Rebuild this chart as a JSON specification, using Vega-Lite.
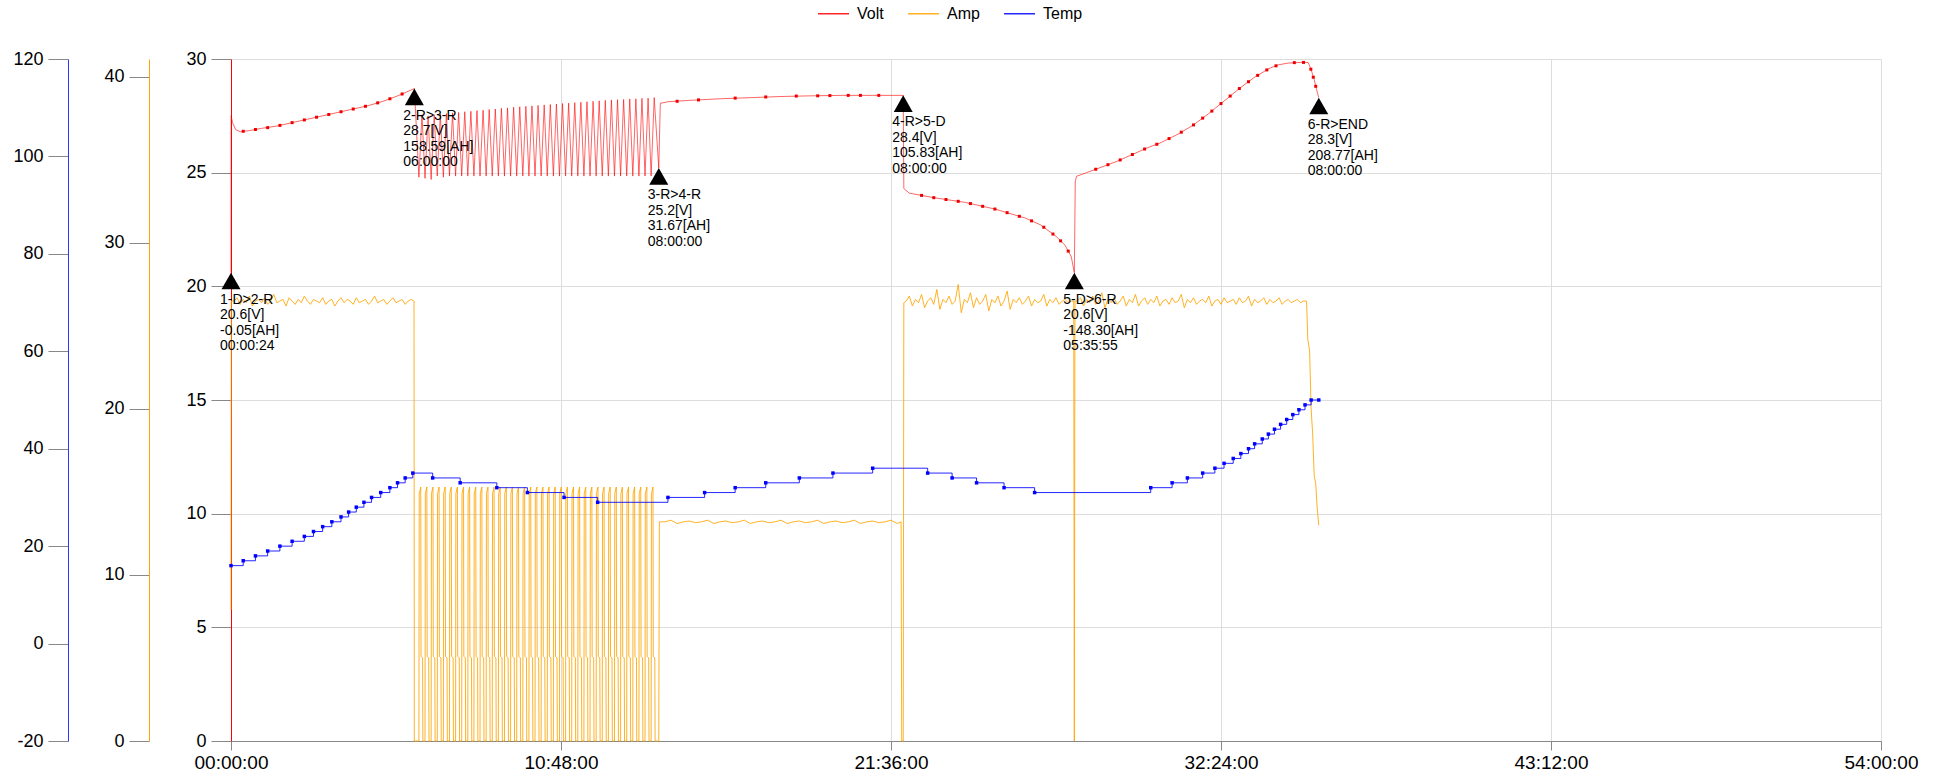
{
  "$schema": "https://vega.github.io/schema/vega-lite/v6.json",
  "width": 1650,
  "height": 682,
  "autosize": {"type": "none"},
  "padding": {"left": 231, "top": 59, "right": 60, "bottom": 34},
  "background": "white",
  "config": {
    "view": {"stroke": null},
    "font": "Liberation Sans",
    "axis": {"labelFont": "Liberation Sans", "labelColor": "#000000", "tickColor": "#888888", "domainColor": "#888888", "gridColor": "#dddddd", "labelFontSize": 18, "title": null}
  },
  "datasets": {
    "marks": [
      {"t": 0, "y": 20.6, "label": "1-D>2-R\n20.6[V]\n-0.05[AH]\n00:00:24"},
      {"t": 6.0, "y": 28.7, "label": "2-R>3-R\n28.7[V]\n158.59[AH]\n06:00:00"},
      {"t": 14.0, "y": 25.2, "label": "3-R>4-R\n25.2[V]\n31.67[AH]\n08:00:00"},
      {"t": 22.0, "y": 28.4, "label": "4-R>5-D\n28.4[V]\n105.83[AH]\n08:00:00"},
      {"t": 27.6, "y": 20.6, "label": "5-D>6-R\n20.6[V]\n-148.30[AH]\n05:35:55"},
      {"t": 35.6, "y": 28.3, "label": "6-R>END\n28.3[V]\n208.77[AH]\n08:00:00"}
    ],
    "voltdots": [
      {"t":0.4,"y":26.82},{"t":0.8,"y":26.9},{"t":1.2,"y":26.98},{"t":1.6,"y":27.08},{"t":2.0,"y":27.2},{"t":2.4,"y":27.32},{"t":2.8,"y":27.44},{"t":3.2,"y":27.56},{"t":3.6,"y":27.68},{"t":4.0,"y":27.8},{"t":4.4,"y":27.92},{"t":4.8,"y":28.07},{"t":5.2,"y":28.25},{"t":5.6,"y":28.46},
      {"t":14.6,"y":28.14},{"t":15.3,"y":28.2},{"t":16.5,"y":28.28},{"t":17.5,"y":28.33},{"t":18.5,"y":28.37},{"t":19.2,"y":28.38},{"t":19.6,"y":28.39},{"t":20.2,"y":28.4},{"t":20.6,"y":28.4},{"t":21.2,"y":28.4},
      {"t":22.6,"y":24.0},{"t":23.0,"y":23.9},{"t":23.4,"y":23.82},{"t":23.8,"y":23.74},{"t":24.2,"y":23.64},{"t":24.6,"y":23.52},{"t":25.0,"y":23.4},{"t":25.4,"y":23.24},{"t":25.8,"y":23.08},{"t":26.2,"y":22.88},{"t":26.6,"y":22.6},{"t":26.9,"y":22.3},{"t":27.15,"y":22.0},{"t":27.4,"y":21.55},
      {"t":28.3,"y":25.15},{"t":28.7,"y":25.35},{"t":29.1,"y":25.56},{"t":29.5,"y":25.8},{"t":29.9,"y":26.04},{"t":30.3,"y":26.25},{"t":30.7,"y":26.5},{"t":31.1,"y":26.78},{"t":31.5,"y":27.1},{"t":31.8,"y":27.4},{"t":32.1,"y":27.71},{"t":32.4,"y":28.04},{"t":32.7,"y":28.37},{"t":33.0,"y":28.7},{"t":33.3,"y":29.0},{"t":33.6,"y":29.28},{"t":33.9,"y":29.52},{"t":34.2,"y":29.7},{"t":34.8,"y":29.84},{"t":35.1,"y":29.85},{"t":35.34,"y":29.55},{"t":35.42,"y":29.2},{"t":35.5,"y":28.8}
    ],
    "volt": [
      {"t":0,"y":20.6},{"t":0.005,"y":27.5},{"t":0.05,"y":27.2},{"t":0.15,"y":26.9},{"t":0.3,"y":26.8},{"t":0.6,"y":26.85},{"t":1,"y":26.95},{"t":1.5,"y":27.05},{"t":2,"y":27.2},{"t":2.5,"y":27.35},{"t":3,"y":27.5},{"t":3.5,"y":27.65},{"t":4,"y":27.8},{"t":4.5,"y":27.95},{"t":5,"y":28.15},{"t":5.5,"y":28.4},{"t":6,"y":28.7},
      {"t":6.15,"y":24.8},{"t":6.25,"y":27.55},{"t":6.35,"y":24.75},{"t":6.45,"y":27.5},{"t":6.55,"y":24.7},{"t":6.65,"y":27.55},{"t":6.75,"y":24.85},{"t":6.85,"y":27.58},{"t":6.95,"y":24.8},{"t":7.05,"y":27.6},
      {"t":7.15,"y":24.85},{"t":7.25,"y":27.63},{"t":7.35,"y":24.85},{"t":7.45,"y":27.65},{"t":7.55,"y":24.85},{"t":7.65,"y":27.68},{"t":7.75,"y":24.85},{"t":7.85,"y":27.7},{"t":7.95,"y":24.85},{"t":8.05,"y":27.73},
      {"t":8.15,"y":24.85},{"t":8.25,"y":27.75},{"t":8.35,"y":24.85},{"t":8.45,"y":27.78},{"t":8.55,"y":24.85},{"t":8.65,"y":27.8},{"t":8.75,"y":24.85},{"t":8.85,"y":27.83},{"t":8.95,"y":24.85},{"t":9.05,"y":27.85},
      {"t":9.15,"y":24.85},{"t":9.25,"y":27.88},{"t":9.35,"y":24.85},{"t":9.45,"y":27.9},{"t":9.55,"y":24.85},{"t":9.65,"y":27.92},{"t":9.75,"y":24.85},{"t":9.85,"y":27.94},{"t":9.95,"y":24.85},{"t":10.05,"y":27.96},
      {"t":10.15,"y":24.85},{"t":10.25,"y":27.98},{"t":10.35,"y":24.85},{"t":10.45,"y":28.0},{"t":10.55,"y":24.85},{"t":10.65,"y":28.02},{"t":10.75,"y":24.85},{"t":10.85,"y":28.04},{"t":10.95,"y":24.85},{"t":11.05,"y":28.06},
      {"t":11.15,"y":24.85},{"t":11.25,"y":28.08},{"t":11.35,"y":24.85},{"t":11.45,"y":28.1},{"t":11.55,"y":24.85},{"t":11.65,"y":28.12},{"t":11.75,"y":24.85},{"t":11.85,"y":28.14},{"t":11.95,"y":24.85},{"t":12.05,"y":28.16},
      {"t":12.15,"y":24.85},{"t":12.25,"y":28.18},{"t":12.35,"y":24.85},{"t":12.45,"y":28.2},{"t":12.55,"y":24.85},{"t":12.65,"y":28.21},{"t":12.75,"y":24.85},{"t":12.85,"y":28.22},{"t":12.95,"y":24.85},{"t":13.05,"y":28.24},
      {"t":13.15,"y":24.85},{"t":13.25,"y":28.25},{"t":13.35,"y":24.85},{"t":13.45,"y":28.27},{"t":13.55,"y":24.85},{"t":13.65,"y":28.28},{"t":13.75,"y":24.85},{"t":13.85,"y":28.3},
      {"t":14,"y":25.2},{"t":14.05,"y":28.05},{"t":14.3,"y":28.12},{"t":15,"y":28.18},{"t":16,"y":28.25},{"t":17,"y":28.3},{"t":18,"y":28.35},{"t":19,"y":28.38},{"t":20,"y":28.4},{"t":21,"y":28.4},{"t":22,"y":28.4},
      {"t":22.02,"y":24.3},{"t":22.2,"y":24.1},{"t":23,"y":23.9},{"t":24,"y":23.7},{"t":25,"y":23.4},{"t":26,"y":23.0},{"t":26.5,"y":22.7},{"t":27,"y":22.2},{"t":27.3,"y":21.8},{"t":27.5,"y":21.3},{"t":27.6,"y":20.6},
      {"t":27.63,"y":24.6},{"t":27.67,"y":24.84},{"t":28,"y":25.0},{"t":29,"y":25.5},{"t":30,"y":26.1},{"t":30.4,"y":26.3},{"t":31,"y":26.7},{"t":31.5,"y":27.1},{"t":32,"y":27.6},{"t":32.5,"y":28.15},{"t":33,"y":28.7},{"t":33.5,"y":29.2},{"t":34,"y":29.6},{"t":34.3,"y":29.75},{"t":34.6,"y":29.82},{"t":35,"y":29.85},{"t":35.25,"y":29.85},{"t":35.3,"y":29.7},{"t":35.38,"y":29.4},{"t":35.45,"y":29.1},{"t":35.52,"y":28.7},{"t":35.6,"y":28.3}
    ],
    "temp": [
      {"t":0,"y":16},{"t":0.4,"y":17},{"t":0.8,"y":18},{"t":1.2,"y":19},{"t":1.6,"y":20},{"t":2.0,"y":21},{"t":2.4,"y":22},{"t":2.7,"y":23},{"t":3.0,"y":24},{"t":3.3,"y":25},{"t":3.6,"y":26},{"t":3.85,"y":27},{"t":4.1,"y":28},{"t":4.35,"y":29},{"t":4.6,"y":30},{"t":4.9,"y":31},{"t":5.2,"y":32},{"t":5.45,"y":33},{"t":5.7,"y":34},{"t":5.95,"y":35},
      {"t":6.6,"y":34},{"t":7.5,"y":33},{"t":8.7,"y":32},{"t":9.7,"y":31},{"t":10.9,"y":30},{"t":12.0,"y":29},{"t":14.3,"y":30},{"t":15.5,"y":31},{"t":16.5,"y":32},{"t":17.5,"y":33},{"t":18.6,"y":34},{"t":19.7,"y":35},{"t":21.0,"y":36},
      {"t":22.8,"y":35},{"t":23.6,"y":34},{"t":24.4,"y":33},{"t":25.3,"y":32},{"t":26.3,"y":31},{"t":30.1,"y":32},{"t":30.8,"y":33},{"t":31.3,"y":34},{"t":31.8,"y":35},{"t":32.2,"y":36},{"t":32.5,"y":37},{"t":32.8,"y":38},{"t":33.05,"y":39},{"t":33.3,"y":40},{"t":33.5,"y":41},{"t":33.75,"y":42},{"t":33.95,"y":43},{"t":34.15,"y":44},{"t":34.35,"y":45},{"t":34.55,"y":46},{"t":34.75,"y":47},{"t":34.95,"y":48},{"t":35.15,"y":49},{"t":35.35,"y":50},{"t":35.6,"y":50}
    ],
    "amp": [
      {"t":0,"y":7.9},{"t":0.01,"y":26.5},
      {"t":0.1,"y":26.5},{"t":0.2,"y":26.7},{"t":0.3,"y":26.3},{"t":0.4,"y":26.6},{"t":0.5,"y":26.4},{"t":0.6,"y":26.8},{"t":0.7,"y":26.2},{"t":0.8,"y":26.5},{"t":0.9,"y":26.6},{"t":1.0,"y":26.4},
      {"t":1.1,"y":26.7},{"t":1.2,"y":26.3},{"t":1.3,"y":26.5},{"t":1.4,"y":26.9},{"t":1.5,"y":26.4},{"t":1.6,"y":26.5},{"t":1.7,"y":26.6},{"t":1.8,"y":26.2},{"t":1.9,"y":26.7},{"t":2.0,"y":26.5},
      {"t":2.1,"y":26.3},{"t":2.2,"y":26.6},{"t":2.3,"y":26.4},{"t":2.4,"y":26.8},{"t":2.5,"y":26.5},{"t":2.6,"y":26.3},{"t":2.7,"y":26.6},{"t":2.8,"y":26.5},{"t":2.9,"y":26.4},{"t":3.0,"y":26.7},
      {"t":3.1,"y":26.3},{"t":3.2,"y":26.5},{"t":3.3,"y":26.6},{"t":3.4,"y":26.2},{"t":3.5,"y":26.5},{"t":3.6,"y":26.7},{"t":3.7,"y":26.4},{"t":3.8,"y":26.6},{"t":3.9,"y":26.5},{"t":4.0,"y":26.3},
      {"t":4.1,"y":26.7},{"t":4.2,"y":26.4},{"t":4.3,"y":26.5},{"t":4.4,"y":26.6},{"t":4.5,"y":26.3},{"t":4.6,"y":26.5},{"t":4.7,"y":26.8},{"t":4.8,"y":26.4},{"t":4.9,"y":26.5},{"t":5.0,"y":26.6},
      {"t":5.1,"y":26.3},{"t":5.2,"y":26.5},{"t":5.3,"y":26.7},{"t":5.4,"y":26.4},{"t":5.5,"y":26.5},{"t":5.6,"y":26.6},{"t":5.7,"y":26.3},{"t":5.8,"y":26.5},{"t":5.9,"y":26.6},{"t":5.99,"y":26.5},{"t":6.0,"y":0},
      {"t":6.15,"y":0},{"t":6.16,"y":14.9},{"t":6.21,"y":15.3},{"t":6.22,"y":5.1},{"t":6.27,"y":5},{"t":6.28,"y":0},
      {"t":6.35,"y":0},{"t":6.36,"y":14.9},{"t":6.41,"y":15.3},{"t":6.42,"y":5.1},{"t":6.47,"y":5},{"t":6.48,"y":0},
      {"t":6.55,"y":0},{"t":6.56,"y":14.9},{"t":6.61,"y":15.3},{"t":6.62,"y":5.1},{"t":6.67,"y":5},{"t":6.68,"y":0},
      {"t":6.75,"y":0},{"t":6.76,"y":14.9},{"t":6.81,"y":15.3},{"t":6.82,"y":5.1},{"t":6.87,"y":5},{"t":6.88,"y":0},
      {"t":6.95,"y":0},{"t":6.96,"y":14.9},{"t":7.01,"y":15.3},{"t":7.02,"y":5.1},{"t":7.07,"y":5},{"t":7.08,"y":0},
      {"t":7.15,"y":0},{"t":7.16,"y":14.9},{"t":7.21,"y":15.3},{"t":7.22,"y":5.1},{"t":7.27,"y":5},{"t":7.28,"y":0},
      {"t":7.35,"y":0},{"t":7.36,"y":14.9},{"t":7.41,"y":15.3},{"t":7.42,"y":5.1},{"t":7.47,"y":5},{"t":7.48,"y":0},
      {"t":7.55,"y":0},{"t":7.56,"y":14.9},{"t":7.61,"y":15.3},{"t":7.62,"y":5.1},{"t":7.67,"y":5},{"t":7.68,"y":0},
      {"t":7.75,"y":0},{"t":7.76,"y":14.9},{"t":7.81,"y":15.3},{"t":7.82,"y":5.1},{"t":7.87,"y":5},{"t":7.88,"y":0},
      {"t":7.95,"y":0},{"t":7.96,"y":14.9},{"t":8.01,"y":15.3},{"t":8.02,"y":5.1},{"t":8.07,"y":5},{"t":8.08,"y":0},
      {"t":8.15,"y":0},{"t":8.16,"y":14.9},{"t":8.21,"y":15.3},{"t":8.22,"y":5.1},{"t":8.27,"y":5},{"t":8.28,"y":0},
      {"t":8.35,"y":0},{"t":8.36,"y":14.9},{"t":8.41,"y":15.3},{"t":8.42,"y":5.1},{"t":8.47,"y":5},{"t":8.48,"y":0},
      {"t":8.55,"y":0},{"t":8.56,"y":14.9},{"t":8.61,"y":15.3},{"t":8.62,"y":5.1},{"t":8.67,"y":5},{"t":8.68,"y":0},
      {"t":8.75,"y":0},{"t":8.76,"y":14.9},{"t":8.81,"y":15.3},{"t":8.82,"y":5.1},{"t":8.87,"y":5},{"t":8.88,"y":0},
      {"t":8.95,"y":0},{"t":8.96,"y":14.9},{"t":9.01,"y":15.3},{"t":9.02,"y":5.1},{"t":9.07,"y":5},{"t":9.08,"y":0},
      {"t":9.15,"y":0},{"t":9.16,"y":14.9},{"t":9.21,"y":15.3},{"t":9.22,"y":5.1},{"t":9.27,"y":5},{"t":9.28,"y":0},
      {"t":9.35,"y":0},{"t":9.36,"y":14.9},{"t":9.41,"y":15.3},{"t":9.42,"y":5.1},{"t":9.47,"y":5},{"t":9.48,"y":0},
      {"t":9.55,"y":0},{"t":9.56,"y":14.9},{"t":9.61,"y":15.3},{"t":9.62,"y":5.1},{"t":9.67,"y":5},{"t":9.68,"y":0},
      {"t":9.75,"y":0},{"t":9.76,"y":14.9},{"t":9.81,"y":15.3},{"t":9.82,"y":5.1},{"t":9.87,"y":5},{"t":9.88,"y":0},
      {"t":9.95,"y":0},{"t":9.96,"y":14.9},{"t":10.01,"y":15.3},{"t":10.02,"y":5.1},{"t":10.07,"y":5},{"t":10.08,"y":0},
      {"t":10.15,"y":0},{"t":10.16,"y":14.9},{"t":10.21,"y":15.3},{"t":10.22,"y":5.1},{"t":10.27,"y":5},{"t":10.28,"y":0},
      {"t":10.35,"y":0},{"t":10.36,"y":14.9},{"t":10.41,"y":15.3},{"t":10.42,"y":5.1},{"t":10.47,"y":5},{"t":10.48,"y":0},
      {"t":10.55,"y":0},{"t":10.56,"y":14.9},{"t":10.61,"y":15.3},{"t":10.62,"y":5.1},{"t":10.67,"y":5},{"t":10.68,"y":0},
      {"t":10.75,"y":0},{"t":10.76,"y":14.9},{"t":10.81,"y":15.3},{"t":10.82,"y":5.1},{"t":10.87,"y":5},{"t":10.88,"y":0},
      {"t":10.95,"y":0},{"t":10.96,"y":14.9},{"t":11.01,"y":15.3},{"t":11.02,"y":5.1},{"t":11.07,"y":5},{"t":11.08,"y":0},
      {"t":11.15,"y":0},{"t":11.16,"y":14.9},{"t":11.21,"y":15.3},{"t":11.22,"y":5.1},{"t":11.27,"y":5},{"t":11.28,"y":0},
      {"t":11.35,"y":0},{"t":11.36,"y":14.9},{"t":11.41,"y":15.3},{"t":11.42,"y":5.1},{"t":11.47,"y":5},{"t":11.48,"y":0},
      {"t":11.55,"y":0},{"t":11.56,"y":14.9},{"t":11.61,"y":15.3},{"t":11.62,"y":5.1},{"t":11.67,"y":5},{"t":11.68,"y":0},
      {"t":11.75,"y":0},{"t":11.76,"y":14.9},{"t":11.81,"y":15.3},{"t":11.82,"y":5.1},{"t":11.87,"y":5},{"t":11.88,"y":0},
      {"t":11.95,"y":0},{"t":11.96,"y":14.9},{"t":12.01,"y":15.3},{"t":12.02,"y":5.1},{"t":12.07,"y":5},{"t":12.08,"y":0},
      {"t":12.15,"y":0},{"t":12.16,"y":14.9},{"t":12.21,"y":15.3},{"t":12.22,"y":5.1},{"t":12.27,"y":5},{"t":12.28,"y":0},
      {"t":12.35,"y":0},{"t":12.36,"y":14.9},{"t":12.41,"y":15.3},{"t":12.42,"y":5.1},{"t":12.47,"y":5},{"t":12.48,"y":0},
      {"t":12.55,"y":0},{"t":12.56,"y":14.9},{"t":12.61,"y":15.3},{"t":12.62,"y":5.1},{"t":12.67,"y":5},{"t":12.68,"y":0},
      {"t":12.75,"y":0},{"t":12.76,"y":14.9},{"t":12.81,"y":15.3},{"t":12.82,"y":5.1},{"t":12.87,"y":5},{"t":12.88,"y":0},
      {"t":12.95,"y":0},{"t":12.96,"y":14.9},{"t":13.01,"y":15.3},{"t":13.02,"y":5.1},{"t":13.07,"y":5},{"t":13.08,"y":0},
      {"t":13.15,"y":0},{"t":13.16,"y":14.9},{"t":13.21,"y":15.3},{"t":13.22,"y":5.1},{"t":13.27,"y":5},{"t":13.28,"y":0},
      {"t":13.35,"y":0},{"t":13.36,"y":14.9},{"t":13.41,"y":15.3},{"t":13.42,"y":5.1},{"t":13.47,"y":5},{"t":13.48,"y":0},
      {"t":13.55,"y":0},{"t":13.56,"y":14.9},{"t":13.61,"y":15.3},{"t":13.62,"y":5.1},{"t":13.67,"y":5},{"t":13.68,"y":0},
      {"t":13.75,"y":0},{"t":13.76,"y":14.9},{"t":13.81,"y":15.3},{"t":13.82,"y":5.1},{"t":13.87,"y":5},{"t":13.88,"y":0},
      {"t":14.0,"y":0},{"t":14.02,"y":13.2},
      {"t":14.2,"y":13.2},{"t":14.4,"y":13.3},{"t":14.6,"y":13.1},{"t":14.8,"y":13.2},{"t":15.0,"y":13.25},{"t":15.2,"y":13.15},{"t":15.4,"y":13.2},{"t":15.6,"y":13.3},{"t":15.8,"y":13.1},{"t":16.0,"y":13.2},
      {"t":16.2,"y":13.25},{"t":16.4,"y":13.15},{"t":16.6,"y":13.2},{"t":16.8,"y":13.3},{"t":17.0,"y":13.1},{"t":17.2,"y":13.2},{"t":17.4,"y":13.25},{"t":17.6,"y":13.15},{"t":17.8,"y":13.2},{"t":18.0,"y":13.3},
      {"t":18.2,"y":13.1},{"t":18.4,"y":13.2},{"t":18.6,"y":13.25},{"t":18.8,"y":13.15},{"t":19.0,"y":13.2},{"t":19.2,"y":13.3},{"t":19.4,"y":13.1},{"t":19.6,"y":13.2},{"t":19.8,"y":13.25},{"t":20.0,"y":13.15},
      {"t":20.2,"y":13.2},{"t":20.4,"y":13.3},{"t":20.6,"y":13.1},{"t":20.8,"y":13.2},{"t":21.0,"y":13.25},{"t":21.2,"y":13.15},{"t":21.4,"y":13.2},{"t":21.6,"y":13.3},{"t":21.8,"y":13.1},{"t":21.93,"y":13.2},{"t":21.95,"y":0},
      {"t":22.0,"y":0},{"t":22.02,"y":26.4},
      {"t":22.1,"y":26.5},{"t":22.2,"y":26.8},{"t":22.3,"y":26.2},{"t":22.4,"y":26.6},{"t":22.5,"y":26.4},{"t":22.6,"y":26.9},{"t":22.7,"y":26.1},{"t":22.8,"y":26.5},{"t":22.9,"y":26.7},{"t":23.0,"y":26.3},
      {"t":23.1,"y":27.2},{"t":23.2,"y":26.0},{"t":23.3,"y":26.6},{"t":23.4,"y":26.4},{"t":23.5,"y":26.8},{"t":23.6,"y":26.3},{"t":23.7,"y":26.5},{"t":23.8,"y":27.5},{"t":23.9,"y":25.8},{"t":24.0,"y":26.6},
      {"t":24.1,"y":26.4},{"t":24.2,"y":27.0},{"t":24.3,"y":26.1},{"t":24.4,"y":26.7},{"t":24.5,"y":26.3},{"t":24.6,"y":26.5},{"t":24.7,"y":26.9},{"t":24.8,"y":25.9},{"t":24.9,"y":26.6},{"t":25.0,"y":26.4},
      {"t":25.1,"y":26.8},{"t":25.2,"y":26.2},{"t":25.3,"y":26.5},{"t":25.4,"y":27.1},{"t":25.5,"y":26.0},{"t":25.6,"y":26.6},{"t":25.7,"y":26.4},{"t":25.8,"y":26.7},{"t":25.9,"y":26.3},{"t":26.0,"y":26.5},
      {"t":26.1,"y":26.8},{"t":26.2,"y":26.2},{"t":26.3,"y":26.6},{"t":26.4,"y":26.4},{"t":26.5,"y":26.5},{"t":26.6,"y":26.9},{"t":26.7,"y":26.2},{"t":26.8,"y":26.6},{"t":26.9,"y":26.4},{"t":27.0,"y":26.7},
      {"t":27.1,"y":26.3},{"t":27.2,"y":26.5},{"t":27.3,"y":26.6},{"t":27.4,"y":26.4},{"t":27.5,"y":26.5},{"t":27.58,"y":26.5},{"t":27.6,"y":0},{"t":27.62,"y":26.5},
      {"t":27.7,"y":26.5},{"t":27.8,"y":26.7},{"t":27.9,"y":26.2},{"t":28.0,"y":26.6},{"t":28.1,"y":26.4},{"t":28.2,"y":26.8},{"t":28.3,"y":26.3},{"t":28.4,"y":26.5},{"t":28.5,"y":27.0},{"t":28.6,"y":26.1},
      {"t":28.7,"y":26.6},{"t":28.8,"y":26.4},{"t":28.9,"y":26.7},{"t":29.0,"y":26.3},{"t":29.1,"y":26.5},{"t":29.2,"y":26.8},{"t":29.3,"y":26.2},{"t":29.4,"y":26.6},{"t":29.5,"y":26.4},{"t":29.6,"y":26.9},
      {"t":29.7,"y":26.2},{"t":29.8,"y":26.5},{"t":29.9,"y":26.7},{"t":30.0,"y":26.3},{"t":30.1,"y":26.6},{"t":30.2,"y":26.4},{"t":30.3,"y":26.8},{"t":30.4,"y":26.2},{"t":30.5,"y":26.5},{"t":30.6,"y":26.6},
      {"t":30.7,"y":26.3},{"t":30.8,"y":26.7},{"t":30.9,"y":26.4},{"t":31.0,"y":26.5},{"t":31.1,"y":26.9},{"t":31.2,"y":26.1},{"t":31.3,"y":26.6},{"t":31.4,"y":26.4},{"t":31.5,"y":26.7},{"t":31.6,"y":26.3},
      {"t":31.7,"y":26.5},{"t":31.8,"y":26.6},{"t":31.9,"y":26.4},{"t":32.0,"y":26.8},{"t":32.1,"y":26.2},{"t":32.2,"y":26.5},{"t":32.3,"y":26.6},{"t":32.4,"y":26.3},{"t":32.5,"y":26.7},{"t":32.6,"y":26.4},
      {"t":32.7,"y":26.5},{"t":32.8,"y":26.6},{"t":32.9,"y":26.3},{"t":33.0,"y":26.7},{"t":33.1,"y":26.4},{"t":33.2,"y":26.5},{"t":33.3,"y":26.8},{"t":33.4,"y":26.2},{"t":33.5,"y":26.6},{"t":33.6,"y":26.4},
      {"t":33.7,"y":26.5},{"t":33.8,"y":26.7},{"t":33.9,"y":26.3},{"t":34.0,"y":26.6},{"t":34.1,"y":26.4},{"t":34.2,"y":26.5},{"t":34.3,"y":26.7},{"t":34.4,"y":26.3},{"t":34.5,"y":26.5},{"t":34.6,"y":26.6},
      {"t":34.7,"y":26.4},{"t":34.8,"y":26.5},{"t":34.9,"y":26.6},{"t":35.0,"y":26.4},{"t":35.1,"y":26.5},{"t":35.2,"y":26.5},
      {"t":35.24,"y":24.2},{"t":35.3,"y":23.5},{"t":35.35,"y":20.0},{"t":35.4,"y":18.5},{"t":35.45,"y":16.0},{"t":35.5,"y":15.5},{"t":35.55,"y":14.0},{"t":35.6,"y":13.0}
    ]
  },
  "layer": [
    {
      "data": {"name": "amp"},
      "mark": {"type": "line", "strokeWidth": 1, "opacity": 0.85},
      "encoding": {
        "x": {"field": "t", "type": "quantitative", "scale": {"domain": [0, 54], "nice": false, "zero": false},
              "axis": {"values": [0, 10.8, 21.6, 32.4, 43.2, 54], "labelExpr": "format(floor(datum.value),'02d') + ':' + format(round((datum.value % 1) * 60),'02d') + ':00'", "grid": true, "tickSize": 9, "labelPadding": 3, "labelFontSize": 19, "labelFlush": false, "domainColor": "#888888"}},
        "y": {"field": "y", "type": "quantitative", "scale": {"domain": [0, 41.08], "nice": false, "zero": false},
              "axis": {"orient": "left", "offset": 82, "values": [0, 10, 20, 30, 40], "grid": false, "domainColor": "#ffa500", "tickSize": 20, "labelPadding": 5}},
        "color": {"datum": "Amp", "type": "nominal",
                  "scale": {"domain": ["Volt", "Amp", "Temp"], "range": ["#ff0000", "#ffa500", "#0000ff"]},
                  "legend": {"orient": "none", "legendX": 586, "legendY": -62, "direction": "horizontal", "title": null, "symbolType": "stroke", "symbolSize": 961, "symbolStrokeWidth": 1.5, "labelFontSize": 16, "labelFont": "Liberation Sans", "labelOffset": 7, "columnPadding": 21, "padding": 0}}
      }
    },
    {
      "data": {"name": "temp"},
      "mark": {"type": "line", "strokeWidth": 1, "opacity": 0.85, "interpolate": "step-after", "point": {"shape": "square", "size": 12, "filled": true, "color": "#0000ee", "opacity": 1}},
      "encoding": {
        "x": {"field": "t", "type": "quantitative"},
        "y": {"field": "y", "type": "quantitative", "scale": {"domain": [-20, 120], "nice": false, "zero": false},
              "axis": {"orient": "left", "offset": 163, "values": [-20, 0, 20, 40, 60, 80, 100, 120], "labelExpr": "'' + datum.value", "grid": false, "domainColor": "#3333ff", "tickSize": 20, "labelPadding": 5}},
        "color": {"datum": "Temp", "type": "nominal"}
      }
    },
    {
      "layer": [
        {
          "data": {"name": "volt"},
          "mark": {"type": "line", "strokeWidth": 1, "opacity": 0.6},
          "encoding": {
            "x": {"field": "t", "type": "quantitative"},
            "y": {"field": "y", "type": "quantitative", "scale": {"domain": [0, 30], "nice": false, "zero": false},
                  "axis": {"orient": "left", "offset": 0, "values": [0, 5, 10, 15, 20, 25, 30], "grid": true, "domainColor": "#ff0000", "tickSize": 20, "labelPadding": 5}},
            "color": {"datum": "Volt", "type": "nominal"}
          }
        },
        {
          "data": {"name": "voltdots"},
          "mark": {"type": "point", "shape": "square", "size": 9, "filled": true, "color": "#ee0000", "opacity": 1},
          "encoding": {
            "x": {"field": "t", "type": "quantitative"},
            "y": {"field": "y", "type": "quantitative"}
          }
        },
        {
          "data": {"name": "marks"},
          "mark": {"type": "point", "shape": "M0,0L-1,1.75L1,1.75Z", "filled": true, "color": "#000000", "size": 361, "opacity": 1},
          "encoding": {
            "x": {"field": "t", "type": "quantitative"},
            "y": {"field": "y", "type": "quantitative"}
          }
        },
        {
          "data": {"name": "marks"},
          "mark": {"type": "text", "align": "left", "baseline": "top", "dx": -11, "dy": 20, "fontSize": 14, "lineBreak": "\n", "lineHeight": 15.5, "font": "Liberation Sans", "color": "#000000"},
          "encoding": {
            "x": {"field": "t", "type": "quantitative"},
            "y": {"field": "y", "type": "quantitative"},
            "text": {"field": "label"}
          }
        }
      ]
    }
  ],
  "resolve": {"scale": {"y": "independent"}}
}
